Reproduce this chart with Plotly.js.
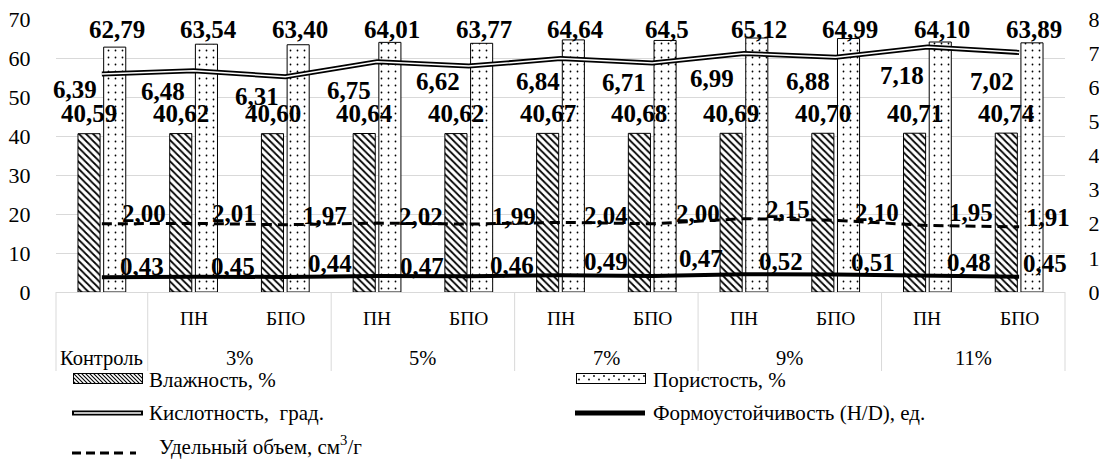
<!DOCTYPE html>
<html>
<head>
<meta charset="utf-8">
<script src="https://cdn.plot.ly/plotly-3.0.1.min.js"></script>
<style>
  html, body { margin: 0; padding: 0; background: #fff; }
  #chart { width: 1099px; height: 460px; }
</style>
</head>
<body>
<div id="chart"></div>
<script>
// Категории: контроль и две добавки (ПН, БПО) при 3–11 %
const groups = ['Контроль', '3%', '3%', '5%', '5%', '7%', '7%', '9%', '9%', '11%', '11%'];
const kinds  = ['', 'ПН', 'БПО', 'ПН', 'БПО', 'ПН', 'БПО', 'ПН', 'БПО', 'ПН', 'БПО'];

// Показатели качества
const moisture       = [40.59, 40.62, 40.60, 40.64, 40.62, 40.67, 40.68, 40.69, 40.70, 40.71, 40.74];
const porosity       = [62.79, 63.54, 63.40, 64.01, 63.77, 64.64, 64.5, 65.12, 64.99, 64.10, 63.89];
const acidity        = [6.39, 6.48, 6.31, 6.75, 6.62, 6.84, 6.71, 6.99, 6.88, 7.18, 7.02];
const shapeStability = [0.43, 0.45, 0.44, 0.47, 0.46, 0.49, 0.47, 0.52, 0.51, 0.48, 0.45];
const specificVolume = [2.00, 2.01, 1.97, 2.02, 1.99, 2.04, 2.00, 2.15, 2.10, 1.95, 1.91];

// Число знаков после запятой в подписях пористости
const porosityDecimals = [2, 2, 2, 2, 2, 2, 1, 2, 2, 2, 2];

// Сдвиги подписей линий, px: [вправо, вниз]
const acidityLabelDx = [-27, -31, -28, -28, -31, -23, -28, -32, -28, -25, -27];
const acidityLabelDy = [16, 21, 20, 29, 15, 23, 19, 25, 24, 29, 29];
const volumeLabelDx  = [42, 40, 40, 44, 45, 45, 46, 44, 41, 44, 29];
const volumeLabelDy  = [-10, -10, -9, -7, -8, -7, -10, -9, -8, -13, -9];
const stabLabelDx    = [40, 39, 45, 45, 43, 45, 49, 37, 37, 42, 26];
const stabLabelDy    = [-11, -10, -13, -9, -11, -14, -17, -13, -12, -13, -13];

const cats = groups.map((g, i) => kinds[i] ? g + ' ' + kinds[i] : g);
const fmt = (v, d) => v.toFixed(d).replace('.', ',');

const SERIF = 'Liberation Serif, Times New Roman, serif';
const GRID = '#d9d9d9';

// Геометрия области построения (px)
const W = 1099, H = 460;
const M = { l: 56, r: 34, t: 19, b: 168 };
const plotW = W - M.l - M.r, plotH = H - M.t - M.b;
const px2x = p => (p - M.l) / plotW;
const px2y = p => (H - M.b - p) / plotH;

const traces = [
  {
    type: 'bar', name: 'Влажность, %', x: cats, y: moisture, yaxis: 'y',
    marker: {
      color: 'white', line: { color: 'black', width: 1 },
      pattern: { shape: '\\', size: 5, solidity: 0.35, fgcolor: 'black', bgcolor: 'white', fillmode: 'replace' }
    },
    hoverinfo: 'skip'
  },
  {
    type: 'bar', name: 'Пористость, %', x: cats, y: porosity, yaxis: 'y',
    marker: {
      color: 'white', line: { color: 'black', width: 1 },
      pattern: { shape: '.', size: 7, solidity: 0.05, fgcolor: 'black', bgcolor: 'white', fillmode: 'replace' }
    },
    hoverinfo: 'skip'
  },
  {
    type: 'scatter', mode: 'lines', name: 'Формоустойчивость (H/D), ед.',
    x: cats, y: shapeStability, yaxis: 'y2',
    line: { color: 'black', width: 4 }, hoverinfo: 'skip'
  },
  {
    type: 'scatter', mode: 'lines', name: 'Удельный объем, см³/г',
    x: cats, y: specificVolume, yaxis: 'y2',
    line: { color: 'black', width: 3, dash: '10px,6px' }, hoverinfo: 'skip'
  },
  {
    // двойная линия: чёрная основа и белая середина
    type: 'scatter', mode: 'lines', name: 'Кислотность, град.',
    x: cats, y: acidity, yaxis: 'y2',
    line: { color: 'black', width: 5 }, hoverinfo: 'skip'
  },
  {
    type: 'scatter', mode: 'lines', name: 'Кислотность (середина)',
    x: cats, y: acidity, yaxis: 'y2',
    line: { color: 'white', width: 1.5 }, hoverinfo: 'skip'
  }
];

const annotations = [];
const labelFont = { family: SERIF, size: 25, color: 'black', weight: 'bold' };
const catFont = { family: SERIF, size: 19.5, color: 'black' };
const BAR_OFFSET = 12.8;

cats.forEach((c, i) => {
  // над столбиками влажности
  annotations.push({
    x: c, y: moisture[i], xref: 'x', yref: 'y', showarrow: false,
    text: fmt(moisture[i], 2), font: labelFont,
    xanchor: 'center', yanchor: 'middle', xshift: -BAR_OFFSET, yshift: 20
  });
  // над столбиками пористости
  annotations.push({
    x: c, y: 1, xref: 'x', yref: 'paper', showarrow: false,
    text: fmt(porosity[i], porosityDecimals[i]), font: labelFont,
    xanchor: 'center', yanchor: 'middle', xshift: BAR_OFFSET + 2, yshift: -10
  });
  // кислотность
  annotations.push({
    x: c, y: acidity[i], xref: 'x', yref: 'y2', showarrow: false,
    text: fmt(acidity[i], 2), font: labelFont,
    xanchor: 'center', yanchor: 'middle', xshift: acidityLabelDx[i], yshift: -acidityLabelDy[i]
  });
  // удельный объем
  annotations.push({
    x: c, y: specificVolume[i], xref: 'x', yref: 'y2', showarrow: false,
    text: fmt(specificVolume[i], 2), font: labelFont,
    xanchor: 'center', yanchor: 'middle', xshift: volumeLabelDx[i], yshift: -volumeLabelDy[i]
  });
  // формоустойчивость
  annotations.push({
    x: c, y: shapeStability[i], xref: 'x', yref: 'y2', showarrow: false,
    text: fmt(shapeStability[i], 2), font: labelFont,
    xanchor: 'center', yanchor: 'middle', xshift: stabLabelDx[i], yshift: -stabLabelDy[i]
  });
  // нижний ряд подписей оси (ПН / БПО)
  if (kinds[i]) {
    annotations.push({
      x: c, y: 0, xref: 'x', yref: 'paper', showarrow: false,
      text: kinds[i], font: catFont,
      xanchor: 'center', yanchor: 'middle', yshift: -26
    });
  }
});

// верхний уровень оси: группы категорий и разделители между ними
const shapes = [];
const n = cats.length;
const bounds = [0];
let start = 0;
for (let i = 1; i <= n; i++) {
  if (i === n || groups[i] !== groups[start]) {
    const centre = (start + i) / 2 / n;
    annotations.push({
      x: centre, y: 0, xref: 'paper', yref: 'paper', showarrow: false,
      text: groups[start], font: { family: SERIF, size: 20.5, color: 'black' },
      xanchor: 'center', yanchor: 'middle', yshift: -66
    });
    bounds.push(i);
    start = i;
  }
}
bounds.forEach(b => {
  shapes.push({
    type: 'line', xref: 'paper', yref: 'paper',
    x0: b / n, x1: b / n, y0: 0, y1: px2y(371),
    line: { color: GRID, width: 1 }
  });
});

// Легенда
const legendFont = { family: SERIF, size: 21, color: 'black' };
function legendText(text, xPx, yPx) {
  annotations.push({
    x: px2x(xPx), y: px2y(yPx), xref: 'paper', yref: 'paper', showarrow: false,
    text: text, font: legendFont, xanchor: 'left', yanchor: 'middle'
  });
}
legendText('Влажность, %', 147, 380);
legendText('Пористость, %', 651, 380);
legendText('Кислотность,&nbsp; град.', 147, 413);
legendText('Формоустойчивость (H/D), ед.', 651, 413);
legendText('Удельный объем, см<sup>3</sup>/г', 157, 445);

function hLine(x0, x1, y, width, color, dash) {
  shapes.push({
    type: 'line', xref: 'paper', yref: 'paper',
    x0: px2x(x0), x1: px2x(x1), y0: px2y(y), y1: px2y(y),
    line: { color: color, width: width, dash: dash || 'solid' }
  });
}
hLine(72, 143, 413, 5, 'black');
hLine(74, 141, 413, 1.5, 'white');
hLine(575, 645, 413, 5, 'black');
hLine(72, 126, 453, 3, 'black', '9px,5px');
hLine(130, 136, 453, 3, 'black');

const hatchSvg =
  "<svg xmlns='http://www.w3.org/2000/svg' width='70' height='11' viewBox='0 0 70 11'>" +
  "<defs><pattern id='h' width='4' height='4' patternUnits='userSpaceOnUse'>" +
  "<path d='M-1,-1 L5,5 M-1,3 L1,5 M3,-1 L5,1' stroke='black' stroke-width='1.1'/></pattern></defs>" +
  "<rect x='0.5' y='0.5' width='69' height='10' fill='white'/>" +
  "<rect x='0.5' y='0.5' width='69' height='10' fill='url(#h)' stroke='black' stroke-width='1'/></svg>";
const dotSvg =
  "<svg xmlns='http://www.w3.org/2000/svg' width='70' height='11' viewBox='0 0 70 11'>" +
  "<defs><pattern id='d' width='10' height='11' patternUnits='userSpaceOnUse'>" +
  "<circle cx='3' cy='6.5' r='0.9' fill='black'/><circle cx='8' cy='3' r='0.9' fill='black'/></pattern></defs>" +
  "<rect x='0.5' y='0.5' width='69' height='10' fill='white'/>" +
  "<rect x='0.5' y='0.5' width='69' height='10' fill='url(#d)' stroke='black' stroke-width='1'/></svg>";
const svgUri = s => 'data:image/svg+xml;charset=utf-8,' + encodeURIComponent(s);

const images = [
  { source: svgUri(hatchSvg), xref: 'paper', yref: 'paper', x: px2x(73), y: px2y(373),
    sizex: 70 / plotW, sizey: 11 / plotH, sizing: 'stretch', xanchor: 'left', yanchor: 'top', layer: 'above' },
  { source: svgUri(dotSvg), xref: 'paper', yref: 'paper', x: px2x(576), y: px2y(373),
    sizex: 70 / plotW, sizey: 11 / plotH, sizing: 'stretch', xanchor: 'left', yanchor: 'top', layer: 'above' }
];

const layout = {
  width: W, height: H,
  margin: { l: M.l, r: M.r, t: M.t, b: M.b, pad: 0 },
  paper_bgcolor: 'white', plot_bgcolor: 'white',
  font: { family: SERIF, size: 19, color: 'black' },
  showlegend: false,
  barmode: 'group', bargap: 0.44, bargroupgap: 0.14,
  xaxis: {
    type: 'category', categoryorder: 'array', categoryarray: cats,
    range: [-0.5, n - 0.5],
    showticklabels: false, ticks: '', showgrid: false, zeroline: false,
    showline: true, linecolor: GRID, linewidth: 1
  },
  yaxis: {
    range: [0, 70], tick0: 0, dtick: 10,
    showgrid: true, gridcolor: GRID, gridwidth: 1, zeroline: false, showline: false,
    ticks: 'outside', ticklen: 20, tickcolor: 'rgba(0,0,0,0)',
    tickfont: { family: SERIF, size: 22, color: 'black' }
  },
  yaxis2: {
    overlaying: 'y', side: 'right', range: [0, 8], tick0: 0, dtick: 1,
    showgrid: false, zeroline: false, showline: false,
    ticks: 'outside', ticklen: 18, tickcolor: 'rgba(0,0,0,0)',
    tickfont: { family: SERIF, size: 22, color: 'black' }
  },
  annotations: annotations,
  shapes: shapes,
  images: images
};

Plotly.newPlot('chart', traces, layout, { staticPlot: true, displayModeBar: false });
</script>
</body>
</html>
